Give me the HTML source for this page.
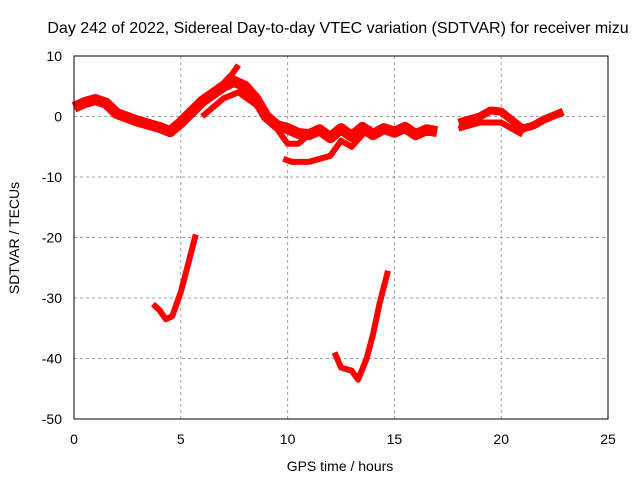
<!DOCTYPE html>
<html><head><meta charset="utf-8"><style>
body{margin:0;background:#fff;}
svg text{font-family:"Liberation Sans",sans-serif;font-size:14px;fill:#000;}
svg text.title{font-size:16px;}
</style></head><body>
<svg id="chart" width="640" height="480" xmlns="http://www.w3.org/2000/svg">
<rect width="640" height="480" fill="#fff"/>
<text class="title" x="338" y="33" text-anchor="middle">Day 242 of 2022, Sidereal Day-to-day VTEC variation (SDTVAR) for receiver mizu</text>
<text x="340" y="471" text-anchor="middle">GPS time / hours</text>
<text transform="translate(19,238) rotate(-90)" text-anchor="middle">SDTVAR / TECUs</text>
<g id="grid"></g><g id="series"></g>
<rect x="74" y="56" width="534" height="363" fill="none" stroke="#000" stroke-width="1"/>
</svg>
<script>
const xTicks=[0,5,10,15,20,25];
const yTicks=[10,0,-10,-20,-30,-40,-50];
const bandMainH=[0,0.5,1,1.5,2,3,4,4.5,5,6,7,7.5,8,8.5,9,9.5,10,10.5,11,11.5,12,12.5,13,13.5,14,14.5,15,15.5,16,16.5,17];
const bandMainV=[1.5,2.3,2.8,2.2,0.5,-0.8,-1.8,-2.5,-1,2.5,5,5.8,5,3,0,-1.5,-2,-2.8,-3,-2.2,-3.5,-2,-3.3,-1.8,-3,-2,-2.6,-1.8,-3,-2.2,-2.5];
const bandUpperH=[5.8,6.5,7,7.4,7.7];
const bandUpperV=[2,4,5.5,7,8.5];
const bandMidH=[6,7,7.7,8.5,9.5,10,10.5,11];
const bandMidV=[0,3,4,2,-2,-4.5,-4.5,-3];
const bandLowH=[9.8,10.2,11,12,12.5,13,13.5,14];
const bandLowV=[-7,-7.5,-7.5,-6.5,-4,-5,-3,-2];
const rightAH=[18,19,19.5,20,21,21.5,22,22.9];
const rightAV=[-1,0,1,0.8,-2,-1.5,-0.5,0.8];
const rightBH=[18,19,20,21];
const rightBV=[-2,-1,-1,-3];
const dipAH=[3.7,4,4.3,4.6,5,5.3,5.7];
const dipAV=[-31,-32,-33.5,-33,-29,-25,-19.5];
const dipBH=[12.2,12.5,13,13.3,13.7,14,14.3,14.7];
const dipBV=[-39,-41.5,-42,-43.5,-40,-36,-31,-25.5];
const NS="http://www.w3.org/2000/svg";
const X=h=>74+h*534/25, Y=v=>56+(10-v)*363/60;
const grid=document.getElementById('grid'), ser=document.getElementById('series'), svg=document.getElementById('chart');
function mk(t,a){const e=document.createElementNS(NS,t);for(const k in a)e.setAttribute(k,a[k]);return e;}
xTicks.forEach(t=>{
  if(t>0&&t<25){const l=mk('line',{x1:X(t),x2:X(t),y1:56,y2:419,stroke:'#a0a0a0','stroke-dasharray':'3,3'});
  
  grid.appendChild(l);}
  const tx=mk('text',{x:X(t),y:444,'text-anchor':'middle'});tx.textContent=t;
  
  svg.appendChild(tx);
});
yTicks.forEach(t=>{
  if(t<10&&t>-50){const l=mk('line',{x1:74,x2:608,y1:Y(t),y2:Y(t),stroke:'#a0a0a0','stroke-dasharray':'3,3'});
  
  grid.appendChild(l);}
  const tx=mk('text',{x:62,y:Y(t)+5,'text-anchor':'end'});tx.textContent=t;
  
  svg.appendChild(tx);
});
function series(hs,vs,w,name){
  const p=mk('polyline',{points:hs.map((h,i)=>X(h)+','+Y(vs[i])).join(' '),fill:'none',stroke:'#ff0000','stroke-width':w,'stroke-linejoin':'round'});
  
  
  ser.appendChild(p);
}
series(bandMainH,bandMainV,11,'series-main-band');
series(bandUpperH,bandUpperV,6,'series-upper-band');
series(bandMidH,bandMidV,6,'series-mid-band');
series(bandLowH,bandLowV,6,'series-low-band');
series(rightAH,rightAV,8,'series-right-band-a');
series(rightBH,rightBV,6,'series-right-band-b');
series(dipAH,dipAV,6,'series-dip-a');
series(dipBH,dipBV,6,'series-dip-b');
</script>
</body></html>
